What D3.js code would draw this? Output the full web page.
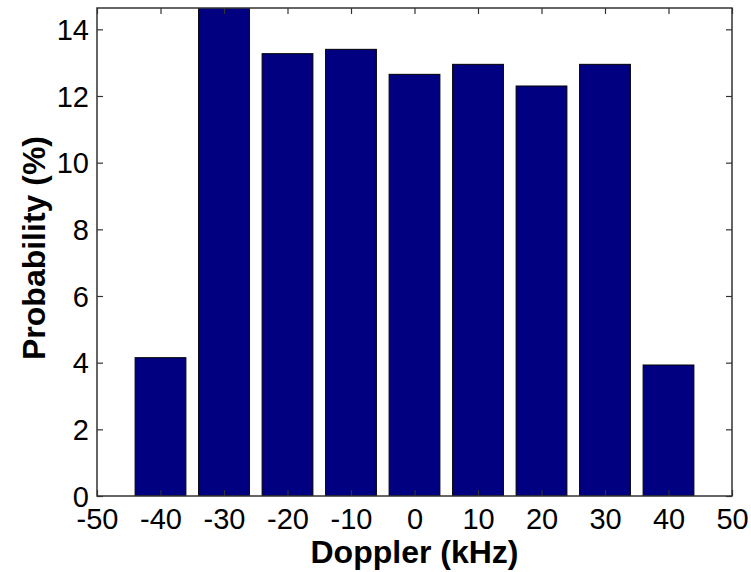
<!DOCTYPE html>
<html><head><meta charset="utf-8">
<script src="https://cdn.jsdelivr.net/npm/d3@7/dist/d3.min.js"></script>
<style>body{margin:0;background:#fff}svg{display:block}</style>
</head><body>
<script>
const categories = [-40, -30, -20, -10, 0, 10, 20, 30, 40];
const values = [4.15, 15.2, 13.27, 13.4, 12.65, 12.95, 12.3, 12.95, 3.93];
const xTicks = [-50, -40, -30, -20, -10, 0, 10, 20, 30, 40, 50];
const yTicks = [0, 2, 4, 6, 8, 10, 12, 14];
const xDomain = [-50, 50];
const yDomain = [0, 14.64];

const W = 751, H = 572;
const m = {l: 97, r: 19, t: 8, b: 76};
const svg = d3.select("body").append("svg").attr("width", W).attr("height", H);
const x = d3.scaleLinear().domain(xDomain).range([m.l, W - m.r]);
const y = d3.scaleLinear().domain(yDomain).range([H - m.b, m.t]);
const font = "'Liberation Sans', Arial, sans-serif";

svg.append("clipPath").attr("id", "clip").append("rect")
  .attr("x", m.l).attr("y", m.t).attr("width", W - m.l - m.r).attr("height", H - m.t - m.b);

const bw = 8;
svg.append("g").attr("clip-path", "url(#clip)").selectAll("rect").data(categories).join("rect")
  .attr("x", (d) => x(d - bw / 2))
  .attr("width", (d) => x(d + bw / 2) - x(d - bw / 2))
  .attr("y", (d, i) => y(values[i]))
  .attr("height", (d, i) => y(0) - y(values[i]))
  .attr("fill", "#000080").attr("stroke", "#000").attr("stroke-width", 1);

const tl = 6;
const fmt = (d) => String(d);
const gx = svg.append("g").attr("transform", `translate(0,${H - m.b})`)
  .call(d3.axisBottom(x).tickValues(xTicks).tickSize(-tl).tickPadding(12).tickFormat(fmt));
const gxt = svg.append("g").attr("transform", `translate(0,${m.t})`)
  .call(d3.axisTop(x).tickValues(xTicks).tickSize(-tl).tickFormat(""));
const gy = svg.append("g").attr("transform", `translate(${m.l},0)`)
  .call(d3.axisLeft(y).tickValues(yTicks).tickSize(-tl).tickPadding(8).tickFormat(fmt));
const gyr = svg.append("g").attr("transform", `translate(${W - m.r},0)`)
  .call(d3.axisRight(y).tickValues(yTicks).tickSize(-tl).tickFormat(""));
[gx, gxt, gy, gyr].forEach(g => {
  g.select(".domain").remove();
  g.selectAll("line").attr("stroke", "#333").attr("stroke-width", 1.2);
  g.selectAll("text").attr("font-family", font).attr("font-size", 29).attr("fill", "#000");
});
gx.selectAll("text").attr("dy", "0.71em");
gy.selectAll("text").attr("dy", "0.35em");

svg.append("rect").attr("x", m.l).attr("y", m.t).attr("width", W - m.l - m.r).attr("height", H - m.t - m.b)
  .attr("fill", "none").attr("stroke", "#333").attr("stroke-width", 1.5);

svg.append("text").attr("x", (m.l + W - m.r) / 2).attr("y", 563).attr("text-anchor", "middle")
  .attr("font-family", font).attr("font-weight", "bold").attr("font-size", 32).text("Doppler (kHz)");
svg.append("text").attr("transform", `translate(45,248) rotate(-90)`).attr("text-anchor", "middle")
  .attr("font-family", font).attr("font-weight", "bold").attr("font-size", 32).text("Probability (%)");
</script>
</body></html>
